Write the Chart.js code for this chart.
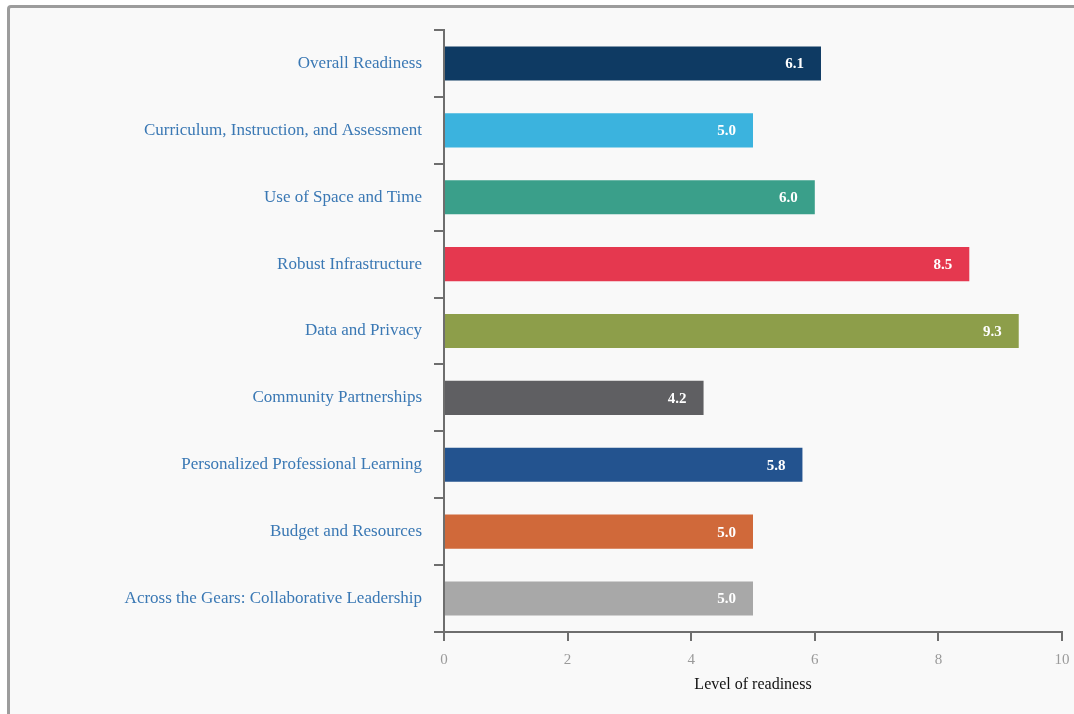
<!DOCTYPE html>
<html>
<head>
<meta charset="utf-8">
<script src="https://cdn.jsdelivr.net/npm/chart.js@4"></script>
<style>
  html, body { margin: 0; padding: 0; background: #fff; overflow: hidden; }
  #frame {
    position: absolute; left: 7px; top: 5px; width: 1100px; height: 760px;
    border: 3px solid #9c9c9c; border-radius: 4px; background: #f9f9f9;
  }
  #wrap { position: absolute; left: 0; top: 0; width: 1074px; height: 714px; }
</style>
</head>
<body>
<div id="frame"></div>
<div id="wrap"><canvas id="myChart" width="1074" height="714"></canvas></div>
<script>
// data
const categories = [
  'Overall Readiness',
  'Curriculum, Instruction, and Assessment',
  'Use of Space and Time',
  'Robust Infrastructure',
  'Data and Privacy',
  'Community Partnerships',
  'Personalized Professional Learning',
  'Budget and Resources',
  'Across the Gears: Collaborative Leadership'
];
const readiness = [6.1, 5.0, 6.0, 8.5, 9.3, 4.2, 5.8, 5.0, 5.0];
const barColors = [
  '#0e3a63', '#3bb3de', '#3a9f8a', '#e5384f', '#8d9e4a',
  '#5f5f62', '#23538f', '#d0693a', '#a8a8a8'
];
const xTicks = [0, 2, 4, 6, 8, 10];

const serif = "'Liberation Serif', 'DejaVu Serif', serif";

// value labels inside the bar ends
const valueLabels = {
  id: 'valueLabels',
  afterDatasetsDraw(chart) {
    const ctx = chart.ctx;
    const meta = chart.getDatasetMeta(0);
    ctx.save();
    ctx.fillStyle = '#ffffff';
    ctx.font = 'bold 15px ' + serif;
    ctx.textAlign = 'right';
    ctx.textBaseline = 'middle';
    meta.data.forEach(function(bar, i) {
      ctx.fillText(readiness[i].toFixed(1), bar.x - 17, bar.y + 1);
    });
    ctx.restore();
  }
};

const data = {
  labels: categories,
  datasets: [{
    data: readiness,
    backgroundColor: barColors,
    borderWidth: 0,
    categoryPercentage: 1,
    barPercentage: 0.51
  }]
};

const config = {
  type: 'bar',
  data,
  options: {
    indexAxis: 'y',
    responsive: false,
    animation: false,
    layout: { padding: { top: 30, right: 12, bottom: 20, left: 0 } },
    plugins: {
      legend: { display: false },
      tooltip: { enabled: false }
    },
    scales: {
      x: {
        min: 0,
        max: 10,
        afterBuildTicks: function(axis) {
          axis.ticks = xTicks.map(function(v) { return { value: v }; });
        },
        afterFit: function(axis) {
          axis.height = 62;
          axis.paddingLeft = 0;
          axis.paddingRight = 0;
        },
        border: { display: true, color: '#6e6e6e', width: 2 },
        grid: { drawOnChartArea: false, drawTicks: true, tickLength: 9, color: '#6e6e6e', lineWidth: 2 },
        ticks: { color: '#9a9a9a', font: { family: serif, size: 15 }, padding: 10 },
        title: {
          display: true,
          text: 'Level of readiness',
          color: '#111',
          font: { family: serif, size: 16 },
          padding: { top: 0, bottom: 0 }
        }
      },
      y: {
        afterFit: function(axis) { axis.width = 444; },
        border: { display: true, color: '#6e6e6e', width: 2 },
        grid: { offset: true, drawOnChartArea: false, drawTicks: true, tickLength: 10, color: '#6e6e6e', lineWidth: 2 },
        ticks: { color: '#3a78b4', font: { family: serif, size: 17 }, padding: 12, autoSkip: false }
      }
    }
  },
  plugins: [valueLabels]
};

const myChart = new Chart(document.getElementById('myChart'), config);
</script>
</body>
</html>
